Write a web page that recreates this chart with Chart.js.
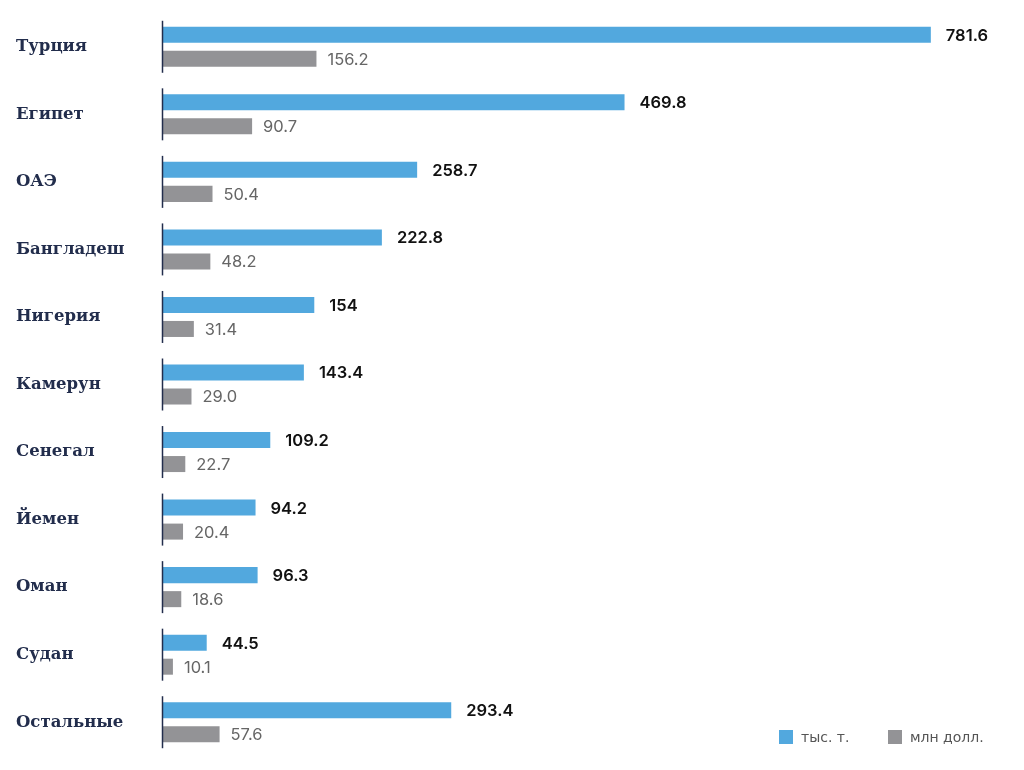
<!DOCTYPE html>
<html>
<head>
<meta charset="utf-8">
<script src="https://cdn.jsdelivr.net/npm/chart.js@4/dist/chart.umd.min.js"></script>
<style>
  html, body { margin: 0; padding: 0; background: #fff; }
  #wrap { width: 1024px; height: 770px; position: relative; }
</style>
</head>
<body>
<div id="wrap"><canvas id="chart" width="1024" height="770"></canvas></div>
<script>
// Страны
const strany = ['Турция', 'Египет', 'ОАЭ', 'Бангладеш', 'Нигерия', 'Камерун', 'Сенегал', 'Йемен', 'Оман', 'Судан', 'Остальные'];

// тыс. т.
const tonny = [781.6, 469.8, 258.7, 222.8, 154, 143.4, 109.2, 94.2, 96.3, 44.5, 293.4];
const tonnyText = ['781.6', '469.8', '258.7', '222.8', '154', '143.4', '109.2', '94.2', '96.3', '44.5', '293.4'];

// млн долл.
const dollary = [156.2, 90.7, 50.4, 48.2, 31.4, 29.0, 22.7, 20.4, 18.6, 10.1, 57.6];
const dollaryText = ['156.2', '90.7', '50.4', '48.2', '31.4', '29.0', '22.7', '20.4', '18.6', '10.1', '57.6'];

const seriiNazvaniya = ['тыс. т.', 'млн долл.'];

const SINIY = '#52a8de';
const SERYY = '#939396';
const NAVY = '#222d4c';

// подписи значений, отрезки оси и легенда
const risovalka = {
    id: 'risovalka',
    afterDatasetsDraw(chart) {
        const ctx = chart.ctx;
        const yScale = chart.scales.y;
        const area = chart.chartArea;
        const tekst = [tonnyText, dollaryText];

        ctx.save();
        // подписи
        chart.data.datasets.forEach((ds, i) => {
            const meta = chart.getDatasetMeta(i);
            meta.data.forEach((bar, j) => {
                ctx.font = i === 0 ? '600 16.5px Inter' : '400 16.5px Inter';
                ctx.fillStyle = i === 0 ? '#111111' : '#666666';
                ctx.textAlign = 'left';
                ctx.textBaseline = 'middle';
                ctx.fillText(tekst[i][j], bar.x + (i === 0 ? 15 : 11), bar.y + 1);
            });
        });

        // вертикальные отрезки у каждой страны
        ctx.strokeStyle = NAVY;
        ctx.lineWidth = 1.5;
        strany.forEach((s, j) => {
            const yc = yScale.getPixelForValue(j);
            ctx.beginPath();
            ctx.moveTo(area.left - 0.5, yc - 26);
            ctx.lineTo(area.left - 0.5, yc + 26);
            ctx.stroke();
        });

        // легенда
        const legX = [779, 888];
        const legY = 737;
        chart.data.datasets.forEach((ds, i) => {
            ctx.fillStyle = ds.backgroundColor;
            ctx.fillRect(legX[i], legY - 7, 14, 14);
            ctx.fillStyle = '#555555';
            ctx.font = '400 14px "DejaVu Sans"';
            ctx.textAlign = 'left';
            ctx.textBaseline = 'middle';
            ctx.fillText(seriiNazvaniya[i], legX[i] + 22, legY + 1);
        });
        ctx.restore();
    }
};

const ctx = document.getElementById('chart').getContext('2d');

new Chart(ctx, {
    type: 'bar',
    data: {
        labels: strany,
        datasets: [
            {
                label: seriiNazvaniya[0],
                data: tonny,
                backgroundColor: SINIY,
                categoryPercentage: 0.711,
                barPercentage: 0.667
            },
            {
                label: seriiNazvaniya[1],
                data: dollary,
                backgroundColor: SERYY,
                categoryPercentage: 0.711,
                barPercentage: 0.667
            }
        ]
    },
    options: {
        indexAxis: 'y',
        responsive: false,
        animation: false,
        layout: {
            padding: { left: 16, right: 24, top: 13, bottom: 14 }
        },
        plugins: {
            legend: { display: false },
            tooltip: { enabled: false }
        },
        scales: {
            x: {
                display: false,
                min: 0,
                max: 852
            },
            y: {
                grid: { display: false },
                border: { display: false },
                afterFit: function(scale) { scale.width = 147; },
                ticks: {
                    autoSkip: false,
                    crossAlign: 'far',
                    color: NAVY,
                    padding: 0,
                    font: { family: 'DejaVu Serif', weight: 'bold', size: 16.5 }
                }
            }
        }
    },
    plugins: [risovalka]
});
</script>
</body>
</html>
